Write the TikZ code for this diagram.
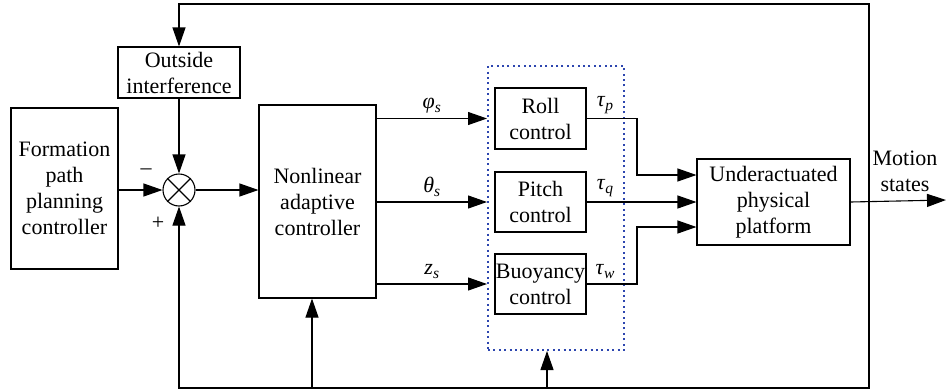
\documentclass[tikz,border=0pt]{standalone}
\usepackage{fontspec}
\setmainfont{Liberation Serif}[Ligatures=TeX]
\usetikzlibrary{arrows.meta, calc}
\definecolor{grpblue}{RGB}{45,70,175}
\newcommand{\sgn}[2]{\textit{#1}\raisebox{-0.4ex}{\fontsize{15.5}{15.5}\selectfont\textit{#2}}}

\begin{document}
\begin{tikzpicture}[x=1pt, y=-1pt, line width=1.1pt,
    font=\rmfamily\fontsize{22}{26}\selectfont,
    block/.style={draw, rectangle, align=center, inner sep=0pt},
    sig/.style={-{Triangle[length=19pt,width=13pt]}},
    group/.style={draw=grpblue, line width=2pt, dash pattern=on 2pt off 3.4pt,
        minimum width=136pt, minimum height=284pt}
]
    \useasboundingbox (0,0) rectangle (947,391);

    % Blocks (pixel coordinates of the reference)
    \node[block, minimum width=107pt, minimum height=161pt] (plan) at (64.5,188.5)
        {Formation\\path\\planning\\controller};
    \node[block, minimum width=122pt, minimum height=51pt] (dist) at (179,72.5)
        {Outside\\interference};
    \node[draw, circle, minimum size=32pt, inner sep=0pt] (sum) at (179,190) {};
    \draw (sum.north west) -- (sum.south east) (sum.north east) -- (sum.south west);
    \node[block, minimum width=117pt, minimum height=193pt] (nac) at (317.5,201.5)
        {Nonlinear\\adaptive\\controller};

    \node[group] (grp) at (556,208) {};
    \node[block, minimum width=91pt, minimum height=61pt] (roll) at (540.5,118.5)
        {Roll\\control};
    \node[block, minimum width=91pt, minimum height=60pt] (pitch) at (540.5,202)
        {Pitch\\control};
    \node[block, minimum width=91pt, minimum height=60pt] (buoy) at (540.5,284)
        {Buoyancy\\control};

    \node[block, minimum width=153pt, minimum height=86pt] (plant) at (773.5,202)
        {Underactuated\\physical\\platform};

    % Helper points
    \coordinate (tap) at (869,200);
    \coordinate (top) at (869,4);
    \coordinate (bot) at (869,388);
    \coordinate (b1) at (312,388);
    \coordinate (b2) at (547,388);
    \coordinate (out) at (946,200);

    % Forward path
    \draw[sig] (plan.east |- sum) -- (sum.west);
    \draw[sig] (sum.east) -- (nac.west |- sum);
    \draw[sig] (dist.south) -- (sum.north);
    \draw[sig] (nac.east |- roll) -- node[above=1pt] {\sgn{φ}{s}} (grp.west |- roll);
    \draw[sig] (nac.east |- pitch) -- node[above=1pt] {\sgn{θ}{s}} (grp.west |- pitch);
    \draw[sig] (nac.east |- buoy) -- node[above=1pt] {\sgn{z}{s}} (grp.west |- buoy);

    \draw[sig] (roll.east) -- (637,118.5) |- ($(plant.west)+(0,-27)$);
    \draw[sig] (pitch.east) -- (plant.west);
    \draw[sig] (buoy.east) -- (637,284) |- ($(plant.west)+(0,25)$);
    \node at (605,105) {\sgn{τ}{p}};
    \node at (605,188) {\sgn{τ}{q}};
    \node at (605,272) {\sgn{τ}{w}};

    \draw[sig] (plant.east) -- (out);
    \node[align=center] at (905,171) {Motion\\states};

    % Feedback
    \draw[sig] (tap) -- (top) -| (dist.north);
    \draw[sig] (tap) -- (bot) -| (sum.south);
    \draw[sig] (b1) -- (b1 |- nac.south);
    \draw[sig] (b2) -- (b2 |- grp.south);

    \node at (146,172) {–};
    \node at (158,223) {+};
\end{tikzpicture}
\end{document}
